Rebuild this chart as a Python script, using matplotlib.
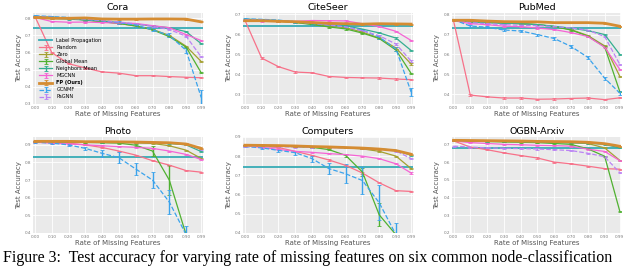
import numpy as np
import matplotlib
matplotlib.use('Agg')
import matplotlib.pyplot as plt
import seaborn as sns

# rate of missing features
rates = [0.0, 0.1, 0.2, 0.3, 0.4, 0.5, 0.6, 0.7, 0.8, 0.9, 0.99]
rate_labels = ['0.00', '0.10', '0.20', '0.30', '0.40', '0.50', '0.60', '0.70', '0.80', '0.90', '0.99']

datasets = ['Cora', 'CiteSeer', 'PubMed', 'Photo', 'Computers', 'OGBN-Arxiv']
methods = ['Random', 'Zero', 'Global Mean', 'Neighbors Mean', 'MGCNN', 'FP (Ours)', 'GCNMF', 'PaGNN']

# label propagation does not use features -> flat line
label_prop = [0.745, 0.643, 0.735, 0.833, 0.741, 0.679]

# Cora
cora_random = [0.81, 0.60, 0.535, 0.51, 0.487, 0.48, 0.465, 0.465, 0.46, 0.456, 0.453]
cora_zero = [0.81, 0.805, 0.80, 0.79, 0.78, 0.77, 0.755, 0.735, 0.70, 0.637, 0.548]
cora_global = [0.81, 0.805, 0.80, 0.79, 0.78, 0.77, 0.755, 0.733, 0.693, 0.632, 0.482]
cora_neigh = [0.81, 0.80, 0.795, 0.79, 0.785, 0.775, 0.765, 0.755, 0.745, 0.722, 0.652]
cora_mgcnn = [0.805, 0.781, 0.777, 0.778, 0.775, 0.772, 0.77, 0.757, 0.745, 0.705, 0.67]
cora_fp = [0.805, 0.80, 0.80, 0.802, 0.796, 0.795, 0.795, 0.796, 0.796, 0.795, 0.779]
cora_gcnmf = [0.815, 0.81, 0.805, 0.795, 0.785, 0.775, 0.76, 0.733, 0.70, 0.613, 0.338]
cora_pagnn = [0.81, 0.805, 0.80, 0.795, 0.787, 0.778, 0.768, 0.752, 0.735, 0.695, 0.575]

# CiteSeer
citeseer_random = [0.67, 0.48, 0.437, 0.41, 0.406, 0.388, 0.383, 0.381, 0.38, 0.375, 0.372]
citeseer_zero = [0.67, 0.668, 0.665, 0.66, 0.65, 0.64, 0.632, 0.61, 0.58, 0.53, 0.45]
citeseer_global = [0.67, 0.668, 0.665, 0.658, 0.648, 0.636, 0.626, 0.605, 0.578, 0.52, 0.403]
citeseer_neigh = [0.675, 0.672, 0.668, 0.662, 0.656, 0.648, 0.642, 0.625, 0.606, 0.58, 0.518]
citeseer_mgcnn = [0.668, 0.666, 0.665, 0.664, 0.668, 0.667, 0.666, 0.652, 0.638, 0.614, 0.568]
citeseer_fp = [0.667, 0.667, 0.664, 0.662, 0.658, 0.654, 0.652, 0.650, 0.652, 0.651, 0.650]
citeseer_gcnmf = [0.676, 0.674, 0.67, 0.662, 0.652, 0.645, 0.636, 0.62, 0.585, 0.525, 0.31]
citeseer_pagnn = [0.672, 0.67, 0.667, 0.662, 0.655, 0.646, 0.636, 0.617, 0.592, 0.55, 0.465]

# PubMed
pubmed_random = [0.77, 0.395, 0.386, 0.38, 0.38, 0.374, 0.375, 0.378, 0.38, 0.372, 0.381]
pubmed_zero = [0.775, 0.765, 0.762, 0.758, 0.755, 0.75, 0.74, 0.725, 0.695, 0.643, 0.49]
pubmed_global = [0.775, 0.765, 0.762, 0.758, 0.755, 0.75, 0.74, 0.723, 0.692, 0.638, 0.413]
pubmed_neigh = [0.775, 0.765, 0.76, 0.757, 0.755, 0.75, 0.742, 0.732, 0.72, 0.70, 0.60]
pubmed_mgcnn = [0.77, 0.755, 0.75, 0.742, 0.74, 0.733, 0.725, 0.71, 0.69, 0.636, 0.525]
pubmed_fp = [0.772, 0.772, 0.768, 0.765, 0.764, 0.764, 0.76, 0.76, 0.76, 0.757, 0.742]
pubmed_gcnmf = [0.775, 0.743, 0.737, 0.723, 0.718, 0.70, 0.68, 0.64, 0.585, 0.48, 0.405]
pubmed_pagnn = [0.775, 0.76, 0.755, 0.75, 0.747, 0.745, 0.74, 0.733, 0.722, 0.69, 0.55]

# Photo
photo_random = [0.92, 0.915, 0.91, 0.90, 0.885, 0.865, 0.842, 0.81, 0.785, 0.754, 0.745]
photo_zero = [0.92, 0.92, 0.918, 0.916, 0.915, 0.914, 0.912, 0.908, 0.895, 0.87, 0.823]
photo_global = [0.92, 0.918, 0.916, 0.914, 0.912, 0.91, 0.898, 0.865, 0.70, 0.39, 0.30]
photo_neigh = [0.92, 0.92, 0.918, 0.917, 0.916, 0.915, 0.914, 0.912, 0.908, 0.90, 0.862]
photo_mgcnn = [0.915, 0.91, 0.905, 0.90, 0.895, 0.89, 0.886, 0.88, 0.865, 0.846, 0.817]
photo_fp = [0.92, 0.92, 0.92, 0.918, 0.918, 0.917, 0.916, 0.914, 0.912, 0.905, 0.88]
photo_gcnmf = [0.915, 0.91, 0.90, 0.88, 0.852, 0.827, 0.763, 0.70, 0.575, 0.39, 0.30]
photo_pagnn = [0.92, 0.92, 0.92, 0.918, 0.918, 0.918, 0.916, 0.914, 0.912, 0.905, 0.873]

# Computers
computers_random = [0.855, 0.85, 0.845, 0.825, 0.804, 0.78, 0.752, 0.712, 0.661, 0.62, 0.616]
computers_zero = [0.855, 0.853, 0.852, 0.85, 0.848, 0.846, 0.843, 0.838, 0.825, 0.80, 0.735]
computers_global = [0.855, 0.853, 0.852, 0.85, 0.846, 0.834, 0.804, 0.717, 0.494, 0.39, 0.30]
computers_neigh = [0.855, 0.854, 0.853, 0.852, 0.85, 0.848, 0.845, 0.842, 0.838, 0.83, 0.805]
computers_mgcnn = [0.855, 0.845, 0.835, 0.825, 0.82, 0.813, 0.808, 0.80, 0.787, 0.76, 0.712]
computers_fp = [0.857, 0.856, 0.855, 0.853, 0.85, 0.848, 0.845, 0.842, 0.837, 0.829, 0.81]
computers_gcnmf = [0.85, 0.843, 0.83, 0.818, 0.787, 0.735, 0.708, 0.673, 0.557, 0.39, 0.30]
computers_pagnn = [0.85, 0.85, 0.849, 0.848, 0.846, 0.845, 0.843, 0.84, 0.835, 0.827, 0.787]

# OGBN-Arxiv (no GCNMF run)
arxiv_random = [0.72, 0.685, 0.67, 0.652, 0.637, 0.623, 0.60, 0.59, 0.577, 0.563, 0.56]
arxiv_zero = [0.72, 0.719, 0.718, 0.716, 0.715, 0.713, 0.711, 0.709, 0.705, 0.68, 0.61]
arxiv_global = [0.72, 0.718, 0.716, 0.714, 0.712, 0.71, 0.705, 0.70, 0.675, 0.633, 0.323]
arxiv_neigh = [0.72, 0.719, 0.718, 0.717, 0.716, 0.714, 0.712, 0.71, 0.707, 0.70, 0.68]
arxiv_mgcnn = [0.72, 0.71, 0.705, 0.70, 0.698, 0.695, 0.693, 0.69, 0.673, 0.66, 0.608]
arxiv_fp = [0.723, 0.722, 0.721, 0.72, 0.719, 0.717, 0.716, 0.715, 0.712, 0.704, 0.69]
arxiv_gcnmf = [np.nan] * 11
arxiv_pagnn = [0.69, 0.685, 0.68, 0.678, 0.676, 0.674, 0.67, 0.665, 0.65, 0.63, 0.54]

# error bars (std), most are tiny
small_std = 0.003
cora_gcnmf_std = [0.003, 0.003, 0.004, 0.005, 0.006, 0.007, 0.008, 0.01, 0.012, 0.015, 0.045]
citeseer_gcnmf_std = [0.003, 0.003, 0.003, 0.004, 0.004, 0.005, 0.005, 0.006, 0.008, 0.01, 0.02]
pubmed_gcnmf_std = [0.003, 0.004, 0.004, 0.005, 0.005, 0.005, 0.006, 0.006, 0.007, 0.008, 0.008]
photo_gcnmf_std = [0.003, 0.004, 0.005, 0.01, 0.02, 0.03, 0.035, 0.045, 0.07, 0.05, 0.0]
computers_gcnmf_std = [0.003, 0.004, 0.006, 0.01, 0.015, 0.03, 0.05, 0.07, 0.09, 0.06, 0.0]
photo_global_std = [0.002, 0.002, 0.002, 0.002, 0.002, 0.003, 0.005, 0.03, 0.085, 0.0, 0.0]
computers_global_std = [0.002, 0.002, 0.002, 0.002, 0.002, 0.003, 0.006, 0.02, 0.06, 0.0, 0.0]

ylims = [(0.3, 0.83), (0.25, 0.705), (0.35, 0.808), (0.4, 0.945), (0.4, 0.9), (0.2, 0.742)]

all_data = {
    'Cora': [cora_random, cora_zero, cora_global, cora_neigh, cora_mgcnn, cora_fp, cora_gcnmf, cora_pagnn],
    'CiteSeer': [citeseer_random, citeseer_zero, citeseer_global, citeseer_neigh, citeseer_mgcnn, citeseer_fp, citeseer_gcnmf, citeseer_pagnn],
    'PubMed': [pubmed_random, pubmed_zero, pubmed_global, pubmed_neigh, pubmed_mgcnn, pubmed_fp, pubmed_gcnmf, pubmed_pagnn],
    'Photo': [photo_random, photo_zero, photo_global, photo_neigh, photo_mgcnn, photo_fp, photo_gcnmf, photo_pagnn],
    'Computers': [computers_random, computers_zero, computers_global, computers_neigh, computers_mgcnn, computers_fp, computers_gcnmf, computers_pagnn],
    'OGBN-Arxiv': [arxiv_random, arxiv_zero, arxiv_global, arxiv_neigh, arxiv_mgcnn, arxiv_fp, arxiv_gcnmf, arxiv_pagnn],
}
gcnmf_stds = {'Cora': cora_gcnmf_std, 'CiteSeer': citeseer_gcnmf_std, 'PubMed': pubmed_gcnmf_std,
              'Photo': photo_gcnmf_std, 'Computers': computers_gcnmf_std}
global_stds = {'Photo': photo_global_std, 'Computers': computers_global_std}

pal = sns.color_palette('husl', 9)
colors = {'Random': pal[0], 'FP (Ours)': pal[1], 'Zero': pal[2], 'Global Mean': pal[3],
          'Neighbors Mean': pal[4], 'GCNMF': pal[6], 'PaGNN': pal[7], 'MGCNN': pal[8]}
lp_color = pal[5]

fig = plt.figure(figsize=(6.4, 2.68), dpi=100)
lefts = [0.052, 0.38, 0.706]
rows = [(0.612, 0.339), (0.131, 0.358)]

for i, name in enumerate(datasets):
    r, c = divmod(i, 3)
    ax = fig.add_axes([lefts[c], rows[r][0], 0.265, rows[r][1]])
    ax.set_facecolor('#eaeaea')
    for s in ax.spines.values():
        s.set_visible(False)
    ax.grid(True, color='white', lw=0.6)
    ax.set_axisbelow(True)

    ax.axhline(label_prop[i], color=lp_color, lw=1.3, label='Label Propagation', zorder=2)
    for j, m in enumerate(methods):
        vals = np.array(all_data[name][j], dtype=float)
        std = np.full(len(rates), small_std)
        if m == 'GCNMF' and name in gcnmf_stds:
            std = np.array(gcnmf_stds[name])
        if m == 'Global Mean' and name in global_stds:
            std = np.array(global_stds[name])
        ls = '--' if m in ('GCNMF', 'PaGNN') else '-'
        lw = 2.0 if m == 'FP (Ours)' else 0.9
        ax.errorbar(rates, vals, yerr=std, color=colors[m], ls=ls, lw=lw,
                    elinewidth=1.0, capsize=1.5, capthick=0.6, label=m,
                    zorder=4 if m == 'FP (Ours)' else 3)

    ax.set_xlim(-0.01, 1.0)
    ax.set_ylim(*ylims[i])
    ax.set_xticks(rates)
    ax.set_xticklabels(rate_labels)
    ax.tick_params(labelsize=3.0, colors='#777777', length=0, pad=1.5)
    ax.set_title(name, fontsize=6.8, pad=2)
    ax.set_xlabel('Rate of Missing Features', fontsize=5, color='#555555', labelpad=1)
    ax.set_ylabel('Test Accuracy', fontsize=5, color='#555555', labelpad=2)

    if name == 'Cora':
        leg = ax.legend(loc='lower left', bbox_to_anchor=(0.01, 0.0), fontsize=3.6,
                        frameon=False, labelspacing=0.42, handlelength=2.6)
        for t in leg.get_texts():
            if t.get_text() == 'FP (Ours)':
                t.set_fontweight('bold')

fig.text(0.004, 0.037, 'Figure 3:  Test accuracy for varying rate of missing features on six common node-classification',
         fontsize=11.5, family='Liberation Serif', va='center', ha='left')

plt.savefig('out.png', dpi=100)
